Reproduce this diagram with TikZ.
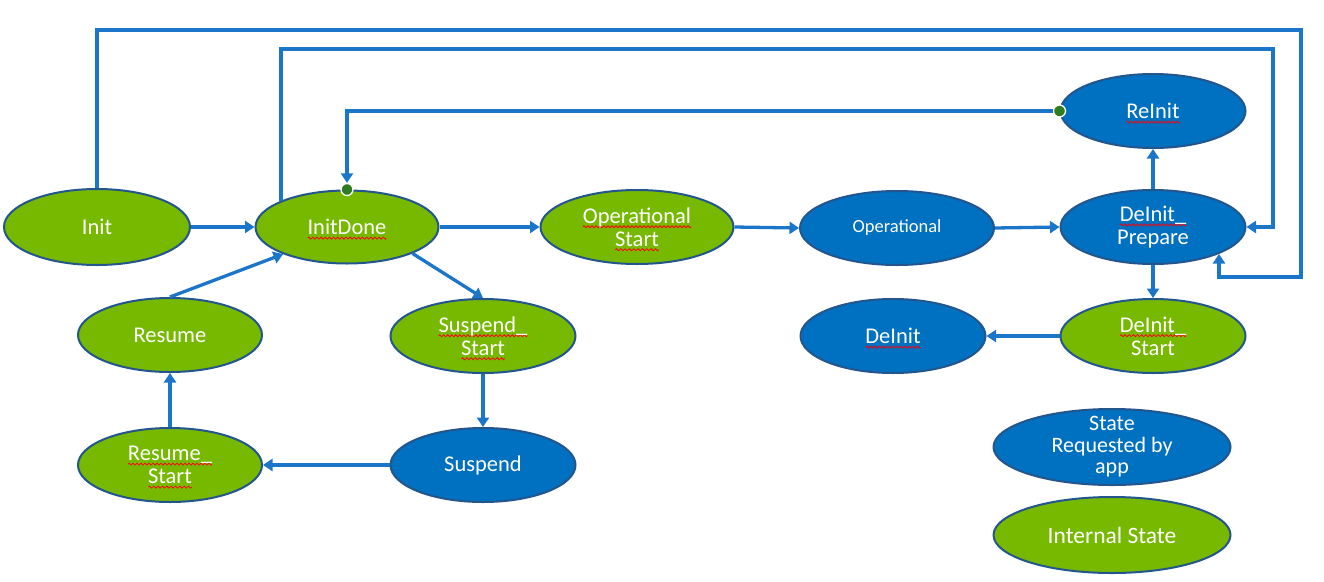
\documentclass[tikz,border=0pt]{standalone}
\usepackage{fontspec}
\setmainfont{Carlito}
\usetikzlibrary{shapes.geometric,arrows.meta}
\definecolor{ngreen}{HTML}{76B900}
\definecolor{nblue}{HTML}{0070C0}
\definecolor{rim}{HTML}{24568E}
\definecolor{wirec}{HTML}{1B75C9}
\definecolor{dotgreen}{HTML}{2F7D1E}
\newsavebox\wavebox
\newcommand\spl[1]{\setbox0=\hbox{#1}\rlap{\raisebox{-4.5pt}[0pt][0pt]{\hbox to \wd0{\xleaders\copy\wavebox\hfill}}}\box0}
\tikzset{
  stbox/.style={ellipse, draw=rim, line width=2pt, inner sep=0pt,
    minimum width=185pt, minimum height=74pt, text=white, align=center,
    font=\fontsize{22.5}{23}\selectfont},
  gst/.style={stbox, fill=ngreen},
  bst/.style={stbox, fill=nblue},
  wire/.style={draw=wirec, line width=3.3pt, -{Triangle[length=9.5pt,width=12pt]}},
  dotc/.style={circle, fill=dotgreen, draw=white, line width=1.3pt,
    minimum size=12pt, inner sep=0pt},
}
\begin{document}
\sbox\wavebox{\pgfpicture\pgfsetlinewidth{0.8pt}\pgfsetstrokecolor{red}%
\pgfpathmoveto{\pgfpoint{0pt}{0pt}}%
\pgfpathsine{\pgfpoint{1pt}{1pt}}\pgfpathcosine{\pgfpoint{1pt}{-1pt}}%
\pgfpathsine{\pgfpoint{1pt}{-1pt}}\pgfpathcosine{\pgfpoint{1pt}{1pt}}%
\pgfusepath{stroke}%
\pgfresetboundingbox\pgfpathrectangle{\pgfpoint{0pt}{-1pt}}{\pgfpoint{4pt}{2pt}}\pgfusepath{use as bounding box}%
\endpgfpicture}%
\begin{tikzpicture}[x=1pt,y=-1pt]
\useasboundingbox[fill=white] (0,0) rectangle (1324,581);

\node[gst, minimum width=186pt, minimum height=76pt] (Init) at (97,227) {Init};
\node[gst, minimum width=183pt, minimum height=73pt] (InitDone) at (347,227) {\spl{InitDone}};
\node[gst, minimum width=193pt] (OpStart) at (637,227) {\spl{Operational}\\\spl{Start}};
\node[bst, minimum width=194pt, font=\fontsize{18.5}{20}\selectfont] (Oper) at (897,228) {Operational};
\node[bst] (DeInitP) at (1153,227) {\spl{DeInit\_}\\Prepare};
\node[bst] (ReInit) at (1153,111) {\spl{ReInit}};
\node[gst] (DeInitS) at (1153,336) {\spl{DeInit\_}\\Start};
\node[bst] (DeInit) at (893,336) {\spl{DeInit}};
\node[gst, minimum width=184pt] (Resume) at (170,335) {Resume};
\node[gst] (SuspS) at (483,336) {\spl{Suspend\_}\\\spl{Start}};
\node[gst, minimum width=184pt] (ResS) at (170,465) {\spl{Resume\_}\\\spl{Start}};
\node[bst] (Susp) at (483,465) {Suspend};
\node[bst, minimum width=237pt, minimum height=76pt, inner ysep=-12pt,
  font=\fontsize{22}{21.5}\selectfont] (Req) at (1112,447) {State\\Requested by\\app};
\node[gst, minimum width=237pt, minimum height=76pt,
  font=\fontsize{23.5}{24}\selectfont] (Intern) at (1112,535) {Internal State};

\node[dotc] (d1) at (ReInit.west) {};
\node[dotc] (d2) at (InitDone.north) {};

\coordinate (c1) at (1301,30);
\coordinate (c3) at (1219,277);
\coordinate (c4) at (1219,254);
\coordinate (a1) at (281,201);
\coordinate (c5) at (1273,49);

\draw[wire] (Init.east) -- (InitDone.west);
\draw[wire] (Init.north) |- (c1) |- (c3) -- (c4);
\draw[wire] (a1) |- (c5) |- (DeInitP.east);
\draw[wire] (d1) -| (d2);
\draw[wire] (InitDone.east) -- (OpStart.west);
\draw[wire] (OpStart.east) -- (Oper.west);
\draw[wire] (Oper.east) -- (DeInitP.west);
\draw[wire] (DeInitP.north) -- (ReInit.south);
\draw[wire] (DeInitP.south) -- (DeInitS.north);
\draw[wire] (DeInitS.west) -- (DeInit.east);
\draw[wire] (InitDone.-22) -- (SuspS.north);
\draw[wire] (SuspS.south) -- (Susp.north);
\draw[wire] (Susp.west) -- (ResS.east);
\draw[wire] (ResS.north) -- (Resume.south);
\draw[wire] (Resume.north) -- (InitDone.203);
\end{tikzpicture}
\end{document}
